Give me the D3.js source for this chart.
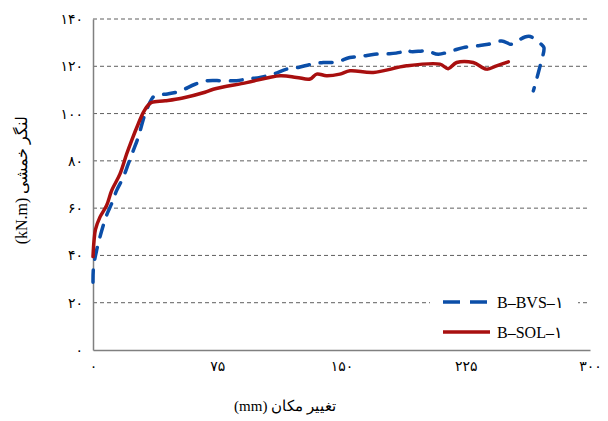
<!DOCTYPE html>
<html>
<head>
<meta charset="utf-8">
<script src="https://cdn.jsdelivr.net/npm/d3@7/dist/d3.min.js"></script>
<style>
  body { margin: 0; background: #fff; }
  svg { display: block; }
</style>
</head>
<body>
<div id="chart"></div>
<script>
// Data
const xTicks = [0, 75, 150, 225, 300];
const yTicks = [0, 20, 40, 60, 80, 100, 120, 140];

const seriesNames = ["B–BVS–۱", "B–SOL–۱"];

const bvsX = [0, 0.3, 2.2, 4.2, 8.2, 11.3, 14.3, 18.3, 21.3, 24.3, 27.3, 31.4, 35.4, 37.4, 45, 52.5, 61.6, 69.4, 77.7, 86.7, 92.8, 100.8, 108.8, 116.9, 123.9, 132, 139, 147, 155, 162, 170, 179, 186, 189, 192, 201.4, 208.4, 216.5, 223.5, 231.6, 238.6, 246.7, 252.7, 256.5, 260.7, 264, 267.8, 271, 272.2, 270, 265.8];
const bvsY = [28.7, 35, 42.2, 47.8, 57, 62, 67.5, 73.1, 78.7, 84.3, 90, 99.8, 106.1, 107.6, 108.3, 109.5, 112.4, 113.9, 113.9, 113.9, 114.6, 115.3, 116.7, 118.8, 119.5, 120.9, 121.6, 121.8, 123.7, 124.2, 125.1, 125.3, 126, 127, 126.2, 126.5, 125.1, 126.5, 127.9, 128.6, 129.3, 130.7, 129.3, 130.8, 132.4, 132.6, 130.7, 129, 127.9, 120.5, 109.6];

const solX = [0, 0.6, 1.5, 4.2, 8.2, 11.3, 16.3, 20.3, 23.3, 27.3, 30.4, 33, 35.4, 43.5, 53.5, 67.6, 72.6, 92.7, 112.9, 122.9, 131, 135, 141, 149, 155.1, 169.2, 189.3, 209.4, 214.4, 219.5, 229.5, 237.6, 243.6, 250.7];
const solY = [39.5, 46, 51, 56.2, 61.1, 67.5, 74.5, 82.9, 88.6, 95.6, 100.5, 103.3, 104.7, 105.4, 106.5, 109, 110.3, 113.1, 116, 115.3, 114.6, 116.7, 116, 116.7, 118.1, 117.4, 120.2, 120.9, 119, 121.6, 121.6, 118.8, 120.2, 121.9];

const width = 608, height = 421;
const margin = { left: 93, right: 18, top: 19, bottom: 71 };

const persianDigits = "۰۱۲۳۴۵۶۷۸۹";
const toPersian = s => String(s).replace(/[0-9]/g, d => persianDigits[+d]);

const svg = d3.select("#chart").append("svg")
  .attr("width", width)
  .attr("height", height)
  .style("font-family", "'Liberation Serif', 'DejaVu Serif', serif");

const x = d3.scaleLinear().domain([0, 300]).range([margin.left, width - margin.right]);
const y = d3.scaleLinear().domain([0, 140]).range([height - margin.bottom, margin.top]);

// gridlines
svg.append("g")
  .selectAll("line")
  .data(yTicks.filter(d => d > 0))
  .enter().append("line")
    .attr("x1", x(0))
    .attr("x2", x(300))
    .attr("y1", d => y(d))
    .attr("y2", d => y(d))
    .attr("stroke", "#5f5f5f")
    .attr("stroke-width", 1)
    .attr("stroke-dasharray", "4,3");

// axes
const xAxis = svg.append("g")
  .attr("transform", `translate(0,${y(0)})`)
  .call(d3.axisBottom(x).tickValues(xTicks).tickSize(0).tickPadding(11).tickFormat(toPersian));
xAxis.select(".domain").attr("stroke", "#808080").attr("stroke-width", 1.5);

const yAxis = svg.append("g")
  .attr("transform", `translate(${x(0)},0)`)
  .call(d3.axisLeft(y).tickValues(yTicks).tickSize(0).tickPadding(10).tickFormat(toPersian));
yAxis.select(".domain").attr("stroke", "#808080").attr("stroke-width", 1.5);

svg.selectAll(".tick text")
  .attr("font-size", 14)
  .attr("font-family", "'DejaVu Sans', sans-serif")
  .attr("fill", "#000");

// series
const line = d3.line()
  .x(d => x(d[0]))
  .y(d => y(d[1]))
  .curve(d3.curveCatmullRom.alpha(0.5));

const bvs = bvsX.map((v, i) => [v, bvsY[i]]);
const sol = solX.map((v, i) => [v, solY[i]]);

svg.append("path")
  .datum(bvs)
  .attr("d", line)
  .attr("fill", "none")
  .attr("stroke", "#0b4ea8")
  .attr("stroke-width", 3.5)
  .attr("stroke-linecap", "round")
  .attr("stroke-dasharray", "12,11");

svg.append("path")
  .datum(sol)
  .attr("d", line)
  .attr("fill", "none")
  .attr("stroke", "#a80f0f")
  .attr("stroke-width", 3.5)
  .attr("stroke-linecap", "round");

// legend
const legend = svg.append("g").attr("transform", "translate(430,288)");
legend.append("rect")
  .attr("width", 148)
  .attr("height", 56)
  .attr("fill", "#fff");

const legendItems = [
  { name: seriesNames[0], color: "#0b4ea8", dash: "17,10" },
  { name: seriesNames[1], color: "#a80f0f", dash: null }
];

legendItems.forEach((d, i) => {
  const gy = 14 + i * 30;
  legend.append("line")
    .attr("x1", 13).attr("x2", 60)
    .attr("y1", gy).attr("y2", gy)
    .attr("stroke", d.color)
    .attr("stroke-width", 3.5)
    .attr("stroke-dasharray", d.dash);
  legend.append("text")
    .attr("x", 67)
    .attr("y", gy)
    .attr("dy", "0.35em")
    .attr("font-size", 16)
    .attr("fill", "#000")
    .text(d.name);
});

// axis titles
svg.append("text")
  .attr("x", 285)
  .attr("y", 411)
  .attr("text-anchor", "middle")
  .attr("direction", "rtl")
  .attr("font-size", 15)
  .attr("fill", "#000")
  .text("تغییر مکان (mm)");

svg.append("text")
  .attr("transform", "translate(27,180) rotate(-90)")
  .attr("text-anchor", "middle")
  .attr("direction", "rtl")
  .attr("font-size", 16)
  .attr("fill", "#000")
  .text("لنگر خمشی (kN.m)");
</script>
</body>
</html>
